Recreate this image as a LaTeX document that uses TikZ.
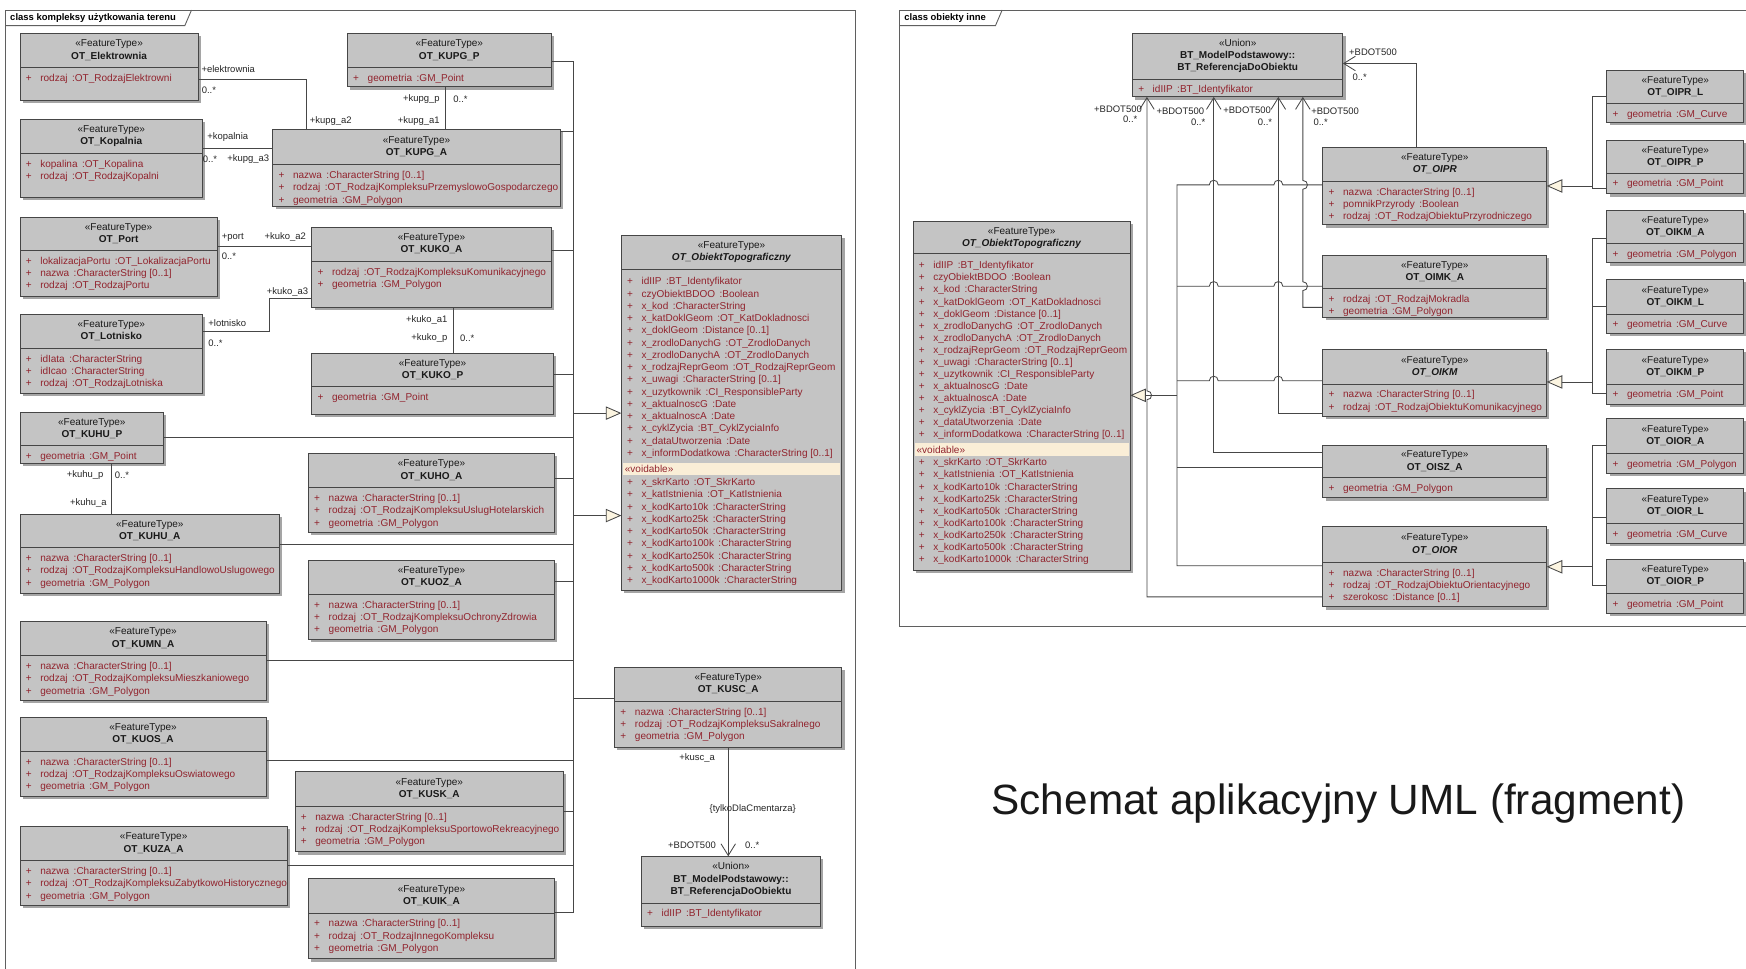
\documentclass[tikz,border=0pt]{standalone}
\usepackage{fontspec}
\setmainfont{Liberation Sans}
\usetikzlibrary{arrows.meta}

\definecolor{boxfill}{RGB}{196,196,196}
\definecolor{boxdraw}{RGB}{70,70,70}
\definecolor{shadowc}{RGB}{165,165,165}
\definecolor{attrred}{RGB}{145,35,45}
\definecolor{voidc}{RGB}{250,238,215}
\definecolor{linec}{RGB}{70,70,70}
\definecolor{framec}{RGB}{95,95,95}
\definecolor{tricream}{RGB}{252,245,225}

\newcommand\fntA{\fontsize{9}{11}\selectfont}
\newcommand\fntB{\fontsize{9}{10.85}\selectfont}
\newcommand\fntL{\fontsize{8.5}{10}\selectfont}
\newcommand\fntT{\fontsize{8.5}{10}\selectfont\bfseries}

% one attribute line: "+" then name and type
\newcommand\ua[1]{\strut\makebox[13pt][l]{+}#1}
\newcommand\tsep{\hspace{4pt}:}
% class headers
\newcommand\ft[1]{\strut«FeatureType»\\\strut\textbf{#1}}
\newcommand\fta[1]{\strut«FeatureType»\\\strut\textbf{\itshape #1}}
\newcommand\unionhdr{\strut«Union»\\\strut\textbf{BT\_ModelPodstawowy::}\\\strut\textbf{BT\_ReferencjaDoObiektu}}

\tikzset{
  clsbox/.style={draw=boxdraw, fill=boxfill, line width=0.8pt, inner sep=0pt, outer sep=0pt},
  sepl/.style={draw=boxdraw, line width=0.8pt},
  hdr/.style={align=center, font=\fntA, inner sep=0pt, text=black!90},
  attrs/.style={align=left, anchor=north west, font=\fntA, inner sep=0pt, text=attrred},
  conn/.style={draw=linec, line width=0.75pt},
  gen/.style={conn, -{Triangle[length=14pt, width=12pt, fill=tricream]}},
  nav/.style={conn, -{Straight Barb[length=10.5pt, width=13pt]}},
  lbl/.style={font=\fntL, inner sep=0pt, text=black!85},
  panel/.style={draw=framec, line width=0.8pt},
}

% class box: name, x1, y1, x2, y2, separator y, header, attributes
\newcommand\umlc[8]{%
  \fill[shadowc] (#2+2.5,#3+2.5) rectangle (#4+2.5,#5+2.5);
  \node[clsbox, minimum width={#4-#2}, minimum height={#5-#3}] (#1) at ({(#2+#4)/2},{(#3+#5)/2}) {};
  \draw[sepl] (#2,#6) -- (#4,#6);
  \node[hdr] (#1-h) at ({(#2+#4)/2},{(#3+#6)/2}) {#7};
  \node[attrs] (#1-a) at (#2+5,#6+4.5) {#8};
}

\begin{document}
\begin{tikzpicture}[x=1pt,y=-1pt]
\fill[white] (0,0) rectangle (1568,870);
\useasboundingbox (0,0) rectangle (1568,870);

% ---------------- panel frames ----------------
\draw[panel] (5,9) rectangle (768,880);
\draw[panel] (5,23) -- (166,23) -- (172,9);
\node[font=\fntT, anchor=west, inner sep=0pt] (tabL) at (9,16.5) {class kompleksy użytkowania terenu};
\draw[panel] (808,9) rectangle (1580,563);
\draw[panel] (808,23) -- (894,23) -- (900,9);
\node[font=\fntT, anchor=west, inner sep=0pt] (tabR) at (812,16.5) {class obiekty inne};

% ---------------- left panel: land-use complexes ----------------
\umlc{elek}{18}{30}{178}{90}{61}{\ft{OT\_Elektrownia}}{\ua{rodzaj\tsep OT\_RodzajElektrowni}}
\umlc{kupgP}{312}{30}{495}{78}{61}{\ft{OT\_KUPG\_P}}{\ua{geometria\tsep GM\_Point}}
\umlc{kop}{18}{107}{182}{177}{138}{\ft{OT\_Kopalnia}}{\ua{kopalina\tsep OT\_Kopalina}\\\ua{rodzaj\tsep OT\_RodzajKopalni}}
\umlc{kupgA}{245}{116}{503}{185}{148}{\ft{OT\_KUPG\_A}}{\ua{nazwa\tsep CharacterString [0..1]}\\\ua{rodzaj\tsep OT\_RodzajKompleksuPrzemyslowoGospodarczego}\\\ua{geometria\tsep GM\_Polygon}}
\umlc{port}{18}{195}{195}{266}{225}{\ft{OT\_Port}}{\ua{lokalizacjaPortu\tsep OT\_LokalizacjaPortu}\\\ua{nazwa\tsep CharacterString [0..1]}\\\ua{rodzaj\tsep OT\_RodzajPortu}}
\umlc{kukoA}{280}{204}{495}{276}{235}{\ft{OT\_KUKO\_A}}{\ua{rodzaj\tsep OT\_RodzajKompleksuKomunikacyjnego}\\\ua{geometria\tsep GM\_Polygon}}
\umlc{lot}{18}{282}{182}{353}{313}{\ft{OT\_Lotnisko}}{\ua{idIata\tsep CharacterString}\\\ua{idIcao\tsep CharacterString}\\\ua{rodzaj\tsep OT\_RodzajLotniska}}
\umlc{kukoP}{280}{317}{497}{372}{347}{\ft{OT\_KUKO\_P}}{\ua{geometria\tsep GM\_Point}}
\umlc{kuhuP}{18}{370}{147}{416}{400}{\ft{OT\_KUHU\_P}}{\ua{geometria\tsep GM\_Point}}
\umlc{kuhoA}{277}{407}{498}{478}{438}{\ft{OT\_KUHO\_A}}{\ua{nazwa\tsep CharacterString [0..1]}\\\ua{rodzaj\tsep OT\_RodzajKompleksuUslugHotelarskich}\\\ua{geometria\tsep GM\_Polygon}}
\umlc{kuhuA}{18}{462}{251}{533}{492}{\ft{OT\_KUHU\_A}}{\ua{nazwa\tsep CharacterString [0..1]}\\\ua{rodzaj\tsep OT\_RodzajKompleksuHandlowoUslugowego}\\\ua{geometria\tsep GM\_Polygon}}
\umlc{kuozA}{277}{503}{498}{574}{534}{\ft{OT\_KUOZ\_A}}{\ua{nazwa\tsep CharacterString [0..1]}\\\ua{rodzaj\tsep OT\_RodzajKompleksuOchronyZdrowia}\\\ua{geometria\tsep GM\_Polygon}}
\umlc{kumnA}{18}{558}{239}{629}{589}{\ft{OT\_KUMN\_A}}{\ua{nazwa\tsep CharacterString [0..1]}\\\ua{rodzaj\tsep OT\_RodzajKompleksuMieszkaniowego}\\\ua{geometria\tsep GM\_Polygon}}
\umlc{kuosA}{18}{644}{239}{715}{675}{\ft{OT\_KUOS\_A}}{\ua{nazwa\tsep CharacterString [0..1]}\\\ua{rodzaj\tsep OT\_RodzajKompleksuOswiatowego}\\\ua{geometria\tsep GM\_Polygon}}
\umlc{kuskA}{265}{693}{506}{765}{724}{\ft{OT\_KUSK\_A}}{\ua{nazwa\tsep CharacterString [0..1]}\\\ua{rodzaj\tsep OT\_RodzajKompleksuSportowoRekreacyjnego}\\\ua{geometria\tsep GM\_Polygon}}
\umlc{kuzaA}{18}{742}{258}{813}{773}{\ft{OT\_KUZA\_A}}{\ua{nazwa\tsep CharacterString [0..1]}\\\ua{rodzaj\tsep OT\_RodzajKompleksuZabytkowoHistorycznego}\\\ua{geometria\tsep GM\_Polygon}}
\umlc{kuikA}{277}{789}{498}{861}{820}{\ft{OT\_KUIK\_A}}{\ua{nazwa\tsep CharacterString [0..1]}\\\ua{rodzaj\tsep OT\_RodzajInnegoKompleksu}\\\ua{geometria\tsep GM\_Polygon}}
\umlc{kuscA}{552}{599}{756}{671}{630}{\ft{OT\_KUSC\_A}}{\ua{nazwa\tsep CharacterString [0..1]}\\\ua{rodzaj\tsep OT\_RodzajKompleksuSakralnego}\\\ua{geometria\tsep GM\_Polygon}}
\umlc{btL}{576}{769}{737}{832}{811}{\unionhdr}{\ua{idIIP\tsep BT\_Identyfikator}}

% abstract topographic object (left)
\fill[shadowc] (560.5,213.5) rectangle (758.5,532.5);
\node[clsbox, minimum width=198, minimum height=319] (obL) at (657,370.5) {};
\draw[sepl] (558,242) -- (756,242);
\node[hdr] (obL-h) at (657,226.5) {\fta{OT\_ObiektTopograficzny}};
\node[attrs] (obL-a) at (563,247.9) {\ua{idIIP\tsep BT\_Identyfikator}\\\ua{czyObiektBDOO\tsep Boolean}\\\ua{x\_kod\tsep CharacterString}\\\ua{x\_katDoklGeom\tsep OT\_KatDokladnosci}\\\ua{x\_doklGeom\tsep Distance [0..1]}\\\ua{x\_zrodloDanychG\tsep OT\_ZrodloDanych}\\\ua{x\_zrodloDanychA\tsep OT\_ZrodloDanych}\\\ua{x\_rodzajReprGeom\tsep OT\_RodzajReprGeom}\\\ua{x\_uwagi\tsep CharacterString [0..1]}\\\ua{x\_uzytkownik\tsep CI\_ResponsibleParty}\\\ua{x\_aktualnoscG\tsep Date}\\\ua{x\_aktualnoscA\tsep Date}\\\ua{x\_cyklZycia\tsep BT\_CyklZyciaInfo}\\\ua{x\_dataUtworzenia\tsep Date}\\\ua{x\_informDodatkowa\tsep CharacterString [0..1]}};
\fill[voidc] (559.5,415.6) rectangle (754.5,426.2);
\node[font=\fntA, text=attrred, anchor=west, inner sep=0pt] (obL-v) at (561,421) {«voidable»};
\node[attrs] (obL-b) at (563,428.2) {\ua{x\_skrKarto\tsep OT\_SkrKarto}\\\ua{x\_katIstnienia\tsep OT\_KatIstnienia}\\\ua{x\_kodKarto10k\tsep CharacterString}\\\ua{x\_kodKarto25k\tsep CharacterString}\\\ua{x\_kodKarto50k\tsep CharacterString}\\\ua{x\_kodKarto100k\tsep CharacterString}\\\ua{x\_kodKarto250k\tsep CharacterString}\\\ua{x\_kodKarto500k\tsep CharacterString}\\\ua{x\_kodKarto1000k\tsep CharacterString}};

% associations between complexes and their parts
\draw[conn] (elek.east |- 0,71) -- (275,71) -- (kupgA.north -| 275,0);
\draw[conn] (kupgP.south -| 400,0) -- (kupgA.north -| 400,0);
\draw[conn] (kop.east |- 0,133) -- (kupgA.west |- 0,133);
\draw[conn] (port.east |- 0,221.5) -- (kukoA.west |- 0,221.5);
\draw[conn] (lot.east |- 0,298) -- (242,298) -- (242,268) -- (kukoA.west |- 0,268);
\draw[conn] (kukoA.south -| 407,0) -- (kukoP.north -| 407,0);
\draw[conn] (kuhuP.south -| 100,0) -- (kuhuA.north -| 100,0);

\node[lbl] (l-el) at (205,62) {+elektrownia};
\node[lbl, anchor=west] (l-el0) at (181,81) {0..*};
\node[lbl] (l-a2) at (297,109) {+kupg\_a2};
\node[lbl, anchor=east] (l-kp) at (395,89) {+kupg\_p};
\node[lbl, anchor=west] (l-kp0) at (407,89) {0..*};
\node[lbl, anchor=east] (l-a1) at (395,109) {+kupg\_a1};
\node[lbl, anchor=west] (l-ko) at (186,123) {+kopalnia};
\node[lbl, anchor=west] (l-ko0) at (182,143) {0..*};
\node[lbl, anchor=east] (l-a3) at (242,143) {+kupg\_a3};
\node[lbl, anchor=west] (l-po) at (199,213) {+port};
\node[lbl, anchor=west] (l-po0) at (199,230.5) {0..*};
\node[lbl, anchor=east] (l-ka2) at (275,213) {+kuko\_a2};
\node[lbl, anchor=east] (l-ka3) at (277,262) {+kuko\_a3};
\node[lbl, anchor=west] (l-lo) at (187,290) {+lotnisko};
\node[lbl, anchor=west] (l-lo0) at (187,308) {0..*};
\node[lbl, anchor=east] (l-ka1) at (402,287) {+kuko\_a1};
\node[lbl, anchor=east] (l-kop) at (402,304) {+kuko\_p};
\node[lbl, anchor=west] (l-kop0) at (413,304) {0..*};
\node[lbl, anchor=east] (l-hp) at (93,426.5) {+kuhu\_p};
\node[lbl, anchor=west] (l-hp0) at (103,426.5) {0..*};
\node[lbl, anchor=east] (l-ha) at (96,452) {+kuhu\_a};

% generalisation trunk towards the topographic object
\coordinate (tk) at (515,0);
\draw[conn] (kupgP.east |- 0,55) -- (tk |- 0,55) -- (tk |- 0,819) -- (kuikA.east |- 0,819);
\draw[conn] (kupgA.east |- 0,118) -- (tk |- 0,118);
\draw[conn] (kukoA.east |- 0,225) -- (tk |- 0,225);
\draw[conn] (kukoP.east |- 0,336) -- (tk |- 0,336);
\draw[conn] (kuhuP.east |- 0,393) -- (tk |- 0,393);
\draw[conn] (kuhoA.east |- 0,429.6) -- (tk |- 0,429.6);
\draw[conn] (kuhuA.east |- 0,488.5) -- (tk |- 0,488.5);
\draw[conn] (kuozA.east |- 0,522.4) -- (tk |- 0,522.4);
\draw[conn] (kumnA.east |- 0,593) -- (tk |- 0,593);
\draw[conn] (kuosA.east |- 0,682.5) -- (tk |- 0,682.5);
\draw[conn] (kuskA.east |- 0,729) -- (tk |- 0,729);
\draw[conn] (kuzaA.east |- 0,776.8) -- (tk |- 0,776.8);
\draw[conn] (tk |- 0,627) -- (kuscA.west |- 0,627);
\draw[gen] (tk |- 0,371) -- (obL.west |- 0,371);
\draw[gen] (tk |- 0,463) -- (obL.west |- 0,463);

\draw[nav] (kuscA.south -| 654,0) -- (btL.north -| 654,0);
\node[lbl] (l-sc) at (626,681) {+kusc\_a};
\node[lbl] (l-cm) at (676,727) {\{tylkoDlaCmentarza\}};
\node[lbl, anchor=east] (l-b5) at (643,759) {+BDOT500};
\node[lbl, anchor=west] (l-b50) at (669,759) {0..*};

% ---------------- right panel: other objects ----------------
\umlc{union}{1017}{30}{1206}{87}{71}{\unionhdr}{\ua{idIIP\tsep BT\_Identyfikator}}
\umlc{oipr}{1188}{132}{1389}{202}{163}{\fta{OT\_OIPR}}{\ua{nazwa\tsep CharacterString [0..1]}\\\ua{pomnikPrzyrody\tsep Boolean}\\\ua{rodzaj\tsep OT\_RodzajObiektuPrzyrodniczego}}
\umlc{oimkA}{1188}{229}{1389}{285}{259}{\ft{OT\_OIMK\_A}}{\ua{rodzaj\tsep OT\_RodzajMokradla}\\\ua{geometria\tsep GM\_Polygon}}
\umlc{oikm}{1188}{314}{1389}{374}{345}{\fta{OT\_OIKM}}{\ua{nazwa\tsep CharacterString [0..1]}\\\ua{rodzaj\tsep OT\_RodzajObiektuKomunikacyjnego}}
\umlc{oisz}{1188}{400}{1389}{447}{429}{\ft{OT\_OISZ\_A}}{\ua{geometria\tsep GM\_Polygon}}
\umlc{oior}{1188}{473}{1389}{545}{505}{\fta{OT\_OIOR}}{\ua{nazwa\tsep CharacterString [0..1]}\\\ua{rodzaj\tsep OT\_RodzajObiektuOrientacyjnego}\\\ua{szerokosc\tsep Distance [0..1]}}
\umlc{oiprL}{1443}{63}{1566}{110}{93}{\ft{OT\_OIPR\_L}}{\ua{geometria\tsep GM\_Curve}}
\umlc{oiprP}{1443}{126}{1566}{174}{155.5}{\ft{OT\_OIPR\_P}}{\ua{geometria\tsep GM\_Point}}
\umlc{oikmA}{1443}{189}{1566}{236}{219}{\ft{OT\_OIKM\_A}}{\ua{geometria\tsep GM\_Polygon}}
\umlc{oikmL}{1443}{251}{1566}{299}{282}{\ft{OT\_OIKM\_L}}{\ua{geometria\tsep GM\_Curve}}
\umlc{oikmP}{1443}{314}{1566}{363}{345}{\ft{OT\_OIKM\_P}}{\ua{geometria\tsep GM\_Point}}
\umlc{oiorA}{1443}{376}{1566}{425}{407}{\ft{OT\_OIOR\_A}}{\ua{geometria\tsep GM\_Polygon}}
\umlc{oiorL}{1443}{439}{1566}{488}{470}{\ft{OT\_OIOR\_L}}{\ua{geometria\tsep GM\_Curve}}
\umlc{oiorP}{1443}{502}{1566}{551}{533}{\ft{OT\_OIOR\_P}}{\ua{geometria\tsep GM\_Point}}

% abstract topographic object (right)
\fill[shadowc] (822.5,201.5) rectangle (1017.5,514.5);
\node[clsbox, minimum width=195, minimum height=313] (obR) at (917.5,355.5) {};
\draw[sepl] (820,228) -- (1015,228);
\node[hdr] (obR-h) at (917.5,213.5) {\fta{OT\_ObiektTopograficzny}};
\node[attrs, font=\fntB] (obR-a) at (825,233.6) {\ua{idIIP\tsep BT\_Identyfikator}\\\ua{czyObiektBDOO\tsep Boolean}\\\ua{x\_kod\tsep CharacterString}\\\ua{x\_katDoklGeom\tsep OT\_KatDokladnosci}\\\ua{x\_doklGeom\tsep Distance [0..1]}\\\ua{x\_zrodloDanychG\tsep OT\_ZrodloDanych}\\\ua{x\_zrodloDanychA\tsep OT\_ZrodloDanych}\\\ua{x\_rodzajReprGeom\tsep OT\_RodzajReprGeom}\\\ua{x\_uwagi\tsep CharacterString [0..1]}\\\ua{x\_uzytkownik\tsep CI\_ResponsibleParty}\\\ua{x\_aktualnoscG\tsep Date}\\\ua{x\_aktualnoscA\tsep Date}\\\ua{x\_cyklZycia\tsep BT\_CyklZyciaInfo}\\\ua{x\_dataUtworzenia\tsep Date}\\\ua{x\_informDodatkowa\tsep CharacterString [0..1]}};
\fill[voidc] (821.5,398.2) rectangle (1013.5,409.6);
\node[font=\fntA, text=attrred, anchor=west, inner sep=0pt] (obR-v) at (823,404) {«voidable»};
\node[attrs, font=\fntB] (obR-b) at (825,410.6) {\ua{x\_skrKarto\tsep OT\_SkrKarto}\\\ua{x\_katIstnienia\tsep OT\_KatIstnienia}\\\ua{x\_kodKarto10k\tsep CharacterString}\\\ua{x\_kodKarto25k\tsep CharacterString}\\\ua{x\_kodKarto50k\tsep CharacterString}\\\ua{x\_kodKarto100k\tsep CharacterString}\\\ua{x\_kodKarto250k\tsep CharacterString}\\\ua{x\_kodKarto500k\tsep CharacterString}\\\ua{x\_kodKarto1000k\tsep CharacterString}};

% geometry variants generalising to their abstract classes
\coordinate (gv) at (1430,0);
\draw[conn] (oiprL.west |- 0,87) -- (gv |- 0,87) -- (gv |- 0,169) -- (oiprP.west |- 0,169);
\draw[gen] (gv |- 0,167) -- (oipr.east |- 0,167);
\draw[conn] (oikmA.west |- 0,214) -- (gv |- 0,214) -- (gv |- 0,353) -- (oikmP.west |- 0,353);
\draw[conn] (oikmL.west |- 0,275) -- (gv |- 0,275);
\draw[gen] (gv |- 0,343) -- (oikm.east |- 0,343);
\draw[conn] (oiorA.west |- 0,400) -- (gv |- 0,400) -- (gv |- 0,526) -- (oiorP.west |- 0,526);
\draw[conn] (oiorL.west |- 0,465) -- (gv |- 0,465);
\draw[gen] (gv |- 0,509) -- (oior.east |- 0,509);

% abstract classes generalising to the topographic object
\draw[conn] (oipr.west |- 0,166) -- (1152,166) .. controls (1152,160.5) and (1144,160.5) .. (1144,166)
  -- (1094,166) .. controls (1094,160.5) and (1086,160.5) .. (1086,166)
  -- (1057,166) -- (1057,508) -- (oior.west |- 0,508);
\draw[conn] (oimkA.west |- 0,257) -- (1152,257) .. controls (1152,251.5) and (1144,251.5) .. (1144,257)
  -- (1094,257) .. controls (1094,251.5) and (1086,251.5) .. (1086,257) -- (1057,257);
\draw[conn] (oikm.west |- 0,342) -- (1152,342) .. controls (1152,336.5) and (1144,336.5) .. (1144,342)
  -- (1094,342) .. controls (1094,336.5) and (1086,336.5) .. (1086,342) -- (1057,342);
\draw[conn] (oisz.west |- 0,420) -- (1057,420);
\draw[gen] (1057,355) -- (obR.east |- 0,355);

% references to BT_ReferencjaDoObiektu
\draw[nav] (oior.west |- 0,536) -- (1030,536) -- (1030,359) .. controls (1035.5,359) and (1035.5,351) .. (1030,351) -- (union.south -| 1030,0);
\draw[nav] (oisz.west |- 0,406) -- (1090,406) -- (union.south -| 1090,0);
\draw[nav] (oikm.west |- 0,371) -- (1148,371) -- (union.south -| 1148,0);
\draw[nav] (oimkA.west |- 0,276) -- (1170,276) -- (1170,261) .. controls (1175.5,261) and (1175.5,253) .. (1170,253)
  -- (1170,170) .. controls (1175.5,170) and (1175.5,162) .. (1170,162) -- (union.south -| 1170,0);
\draw[nav] (oipr.north -| 1272,0) -- (1272,57) -- (union.east |- 0,57);

\node[lbl] (r-b1) at (1004,98) {+BDOT500};
\node[lbl] (r-m1) at (1015,107.5) {0..*};
\node[lbl] (r-b2) at (1060,100) {+BDOT500};
\node[lbl] (r-m2) at (1076,109.5) {0..*};
\node[lbl] (r-b3) at (1120,99) {+BDOT500};
\node[lbl] (r-m3) at (1136,109.5) {0..*};
\node[lbl] (r-b4) at (1199,100) {+BDOT500};
\node[lbl] (r-m4) at (1186,109.5) {0..*};
\node[lbl] (r-b5) at (1233,47) {+BDOT500};
\node[lbl] (r-m5) at (1221,69) {0..*};

% caption
\node[font=\fontsize{38}{44}\selectfont, inner sep=0pt, text=black!90] (caption) at (1202,722) {Schemat aplikacyjny UML (fragment)};
\end{tikzpicture}
\end{document}
